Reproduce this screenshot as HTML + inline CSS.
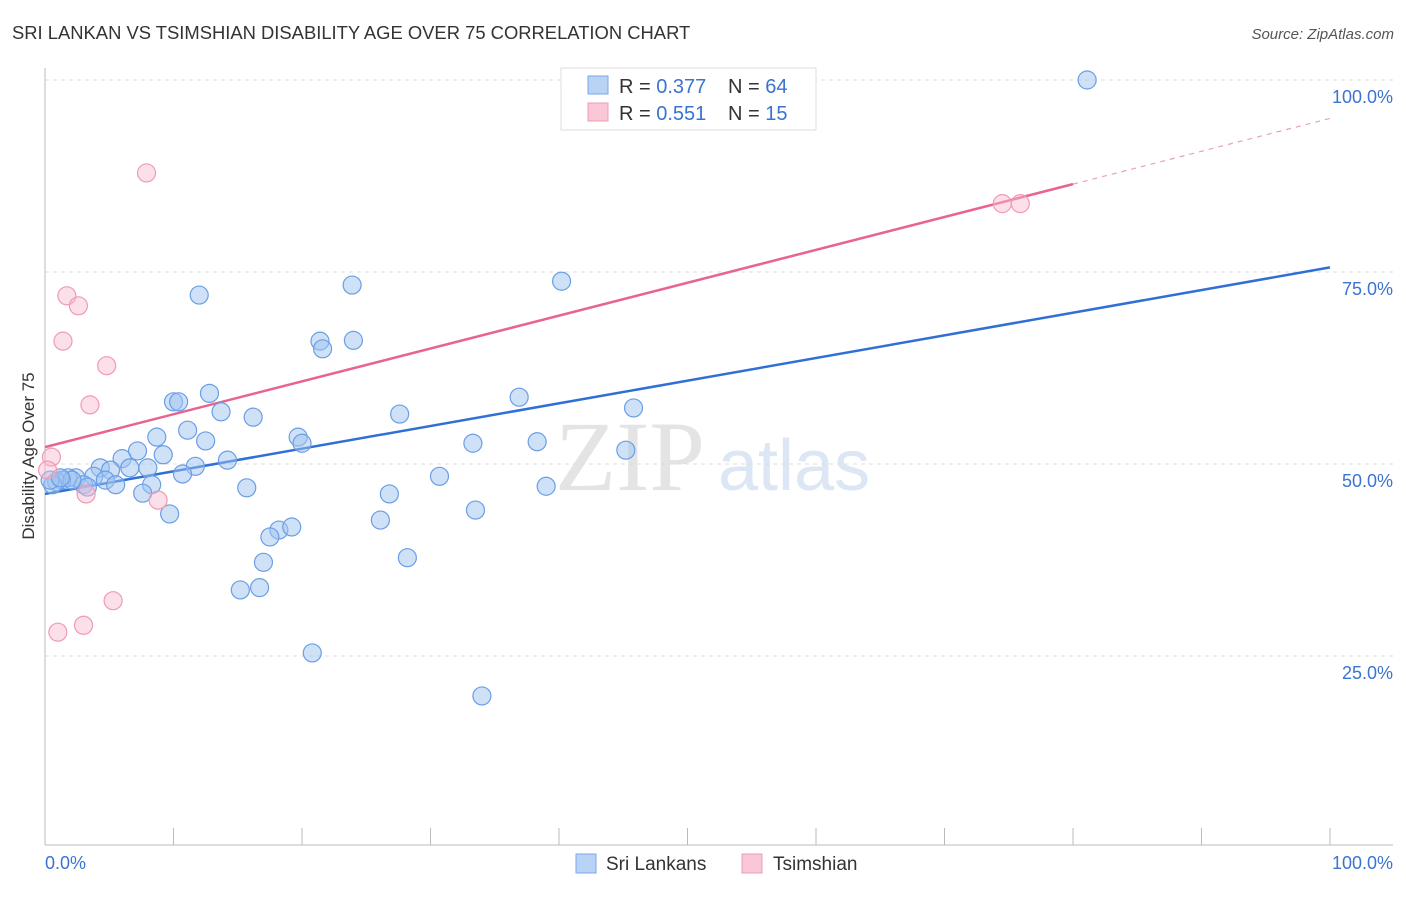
<!DOCTYPE html>
<html><head><meta charset="utf-8"><style>
body{margin:0;background:#fff;font-family:"Liberation Sans",sans-serif}
</style></head><body>
<svg width="1406" height="892" xmlns="http://www.w3.org/2000/svg" font-family="Liberation Sans, sans-serif">
<text x="12" y="39" font-size="18.4" fill="#333">SRI LANKAN VS TSIMSHIAN DISABILITY AGE OVER 75 CORRELATION CHART</text>
<text x="1394" y="39" font-size="15" fill="#555" font-style="italic" text-anchor="end">Source: ZipAtlas.com</text>
<text x="555" y="490" font-size="100" fill="#e4e4e4" font-family="Liberation Serif, serif">ZIP</text>
<text x="718" y="490" font-size="72" fill="#dce6f4">atlas</text>
<g id="grid"></g>
<line x1="45" y1="68" x2="45" y2="845" stroke="#bbb"/>
<line x1="45" y1="845" x2="1393" y2="845" stroke="#bbb"/>
<g id="xticks"></g>
<text x="45" y="869" font-size="18" fill="#3b73d1">0.0%</text>
<text x="1393" y="869" font-size="18" fill="#3b73d1" text-anchor="end">100.0%</text>
<text transform="translate(34,456) rotate(-90)" font-size="17" fill="#333" text-anchor="middle">Disability Age Over 75</text>
<g id="lines"></g>
<g id="points"></g>
<g>
<rect x="561" y="68" width="255" height="62" fill="#fff" stroke="#ddd"/>
<rect x="588" y="76" width="20" height="18" fill="#b8d3f5" stroke="#7aa7e6"/>
<text x="619" y="93" font-size="20" fill="#333">R = <tspan fill="#3b73d1">0.377</tspan><tspan x="728">N = </tspan><tspan fill="#3b73d1">64</tspan></text>
<rect x="588" y="103" width="20" height="18" fill="#f9c7d6" stroke="#f09ab4"/>
<text x="619" y="120" font-size="20" fill="#333">R = <tspan fill="#3b73d1"> 0.551</tspan><tspan x="728">N = </tspan><tspan fill="#3b73d1"> 15</tspan></text>
</g>
<g><rect x="576" y="854" width="20" height="19" fill="#b8d3f5" stroke="#7aa7e6"/><text x="606" y="870" font-size="19" fill="#333">Sri Lankans</text></g>
<g><rect x="742" y="854" width="20" height="19" fill="#f9c7d6" stroke="#f09ab4"/><text x="773" y="870" font-size="19" fill="#333">Tsimshian</text></g>
</svg>
<script>
const blueX=[81.1,40.2,23.9,12.0,21.4,24.0,21.6,12.8,36.9,45.8,10.0,10.4,13.7,16.2,27.6,11.1,8.7,12.5,19.7,20.0,33.3,38.3,45.2,7.2,9.2,6.0,14.2,4.3,6.6,8.0,11.7,10.7,30.7,3.8,5.1,2.4,1.8,1.3,0.9,0.6,3.0,3.3,4.7,5.5,8.3,15.7,39.0,7.6,26.8,33.5,9.7,26.1,18.2,19.2,17.5,28.2,17.0,15.2,16.7,20.8,34.0,0.4,2.1,1.2];
const blueY=[100,73.8,73.3,72.0,66.0,66.1,65.0,59.2,58.7,57.3,58.1,58.1,56.8,56.1,56.5,54.4,53.5,53.0,53.5,52.7,52.7,52.9,51.8,51.7,51.2,50.7,50.5,49.5,49.5,49.5,49.7,48.7,48.4,48.4,49.2,48.2,48.2,47.9,47.7,47.3,47.3,47.0,47.9,47.3,47.3,46.9,47.1,46.2,46.1,44.0,43.5,42.7,41.4,41.8,40.5,37.8,37.2,33.6,33.9,25.4,19.8,47.9,47.9,48.2];
const pinkX=[7.9,1.7,2.6,1.4,4.8,3.5,0.5,3.2,8.8,5.3,3.0,1.0,74.5,75.9,0.2];
const pinkY=[87.9,71.9,70.6,66.0,62.8,57.7,50.9,46.1,45.3,32.2,29.0,28.1,83.9,83.9,49.2];
const yTicks=[100,75,50,25];
const yTickLabels=["100.0%","75.0%","50.0%","25.0%"];
const blueTrend=[46.1,75.6];
const pinkTrend=[52.2,95.0];
const pinkSolidEnd=80;
const NS="http://www.w3.org/2000/svg";
const sx=v=>45+v*12.85, sy=v=>80+(100-v)*7.68;
function mk(t,a,p){const e=document.createElementNS(NS,t);for(const k in a)e.setAttribute(k,a[k]);p.appendChild(e);return e;}
const grid=document.getElementById('grid');
yTicks.forEach((t,i)=>{
 const l=mk('line',{x1:45,x2:1393,y1:sy(t),y2:sy(t),stroke:'#ddd','stroke-dasharray':'4,4'},grid);
 
 
 const tx=mk('text',{x:1393,y:sy(t)+23,'font-size':18,fill:'#3b73d1','text-anchor':'end'},grid);
 tx.textContent=yTickLabels[i];
 
 
});
const xt=document.getElementById('xticks');
for(let i=1;i<=10;i++){const l=mk('line',{x1:sx(i*10),x2:sx(i*10),y1:828,y2:845,stroke:'#bbb'},xt);
 
 }
const pts=document.getElementById('points');
blueX.forEach((x,i)=>{const c=mk('circle',{cx:sx(x),cy:sy(blueY[i]),r:9,fill:'rgba(160,196,240,0.5)',stroke:'#6a9ee6','stroke-width':1.2},pts);
 
 });
pinkX.forEach((x,i)=>{const c=mk('circle',{cx:sx(x),cy:sy(pinkY[i]),r:9,fill:'rgba(248,186,206,0.45)',stroke:'#f09ab4','stroke-width':1.2},pts);
 
 });
const ln=document.getElementById('lines');
const b=mk('line',{x1:sx(0),y1:sy(blueTrend[0]),x2:sx(100),y2:sy(blueTrend[1]),stroke:'#2f6fd6','stroke-width':2.5},ln);


const pAt=x=>pinkTrend[0]+(pinkTrend[1]-pinkTrend[0])*x/100;
const p=mk('line',{x1:sx(0),y1:sy(pAt(0)),x2:sx(pinkSolidEnd),y2:sy(pAt(pinkSolidEnd)),stroke:'#e8648f','stroke-width':2.5},ln);


const pd=mk('line',{x1:sx(pinkSolidEnd),y1:sy(pAt(pinkSolidEnd)),x2:sx(100),y2:sy(pAt(100)),stroke:'#e8a0b8','stroke-width':1.2,'stroke-dasharray':'5,5'},ln);


</script>
</body></html>
